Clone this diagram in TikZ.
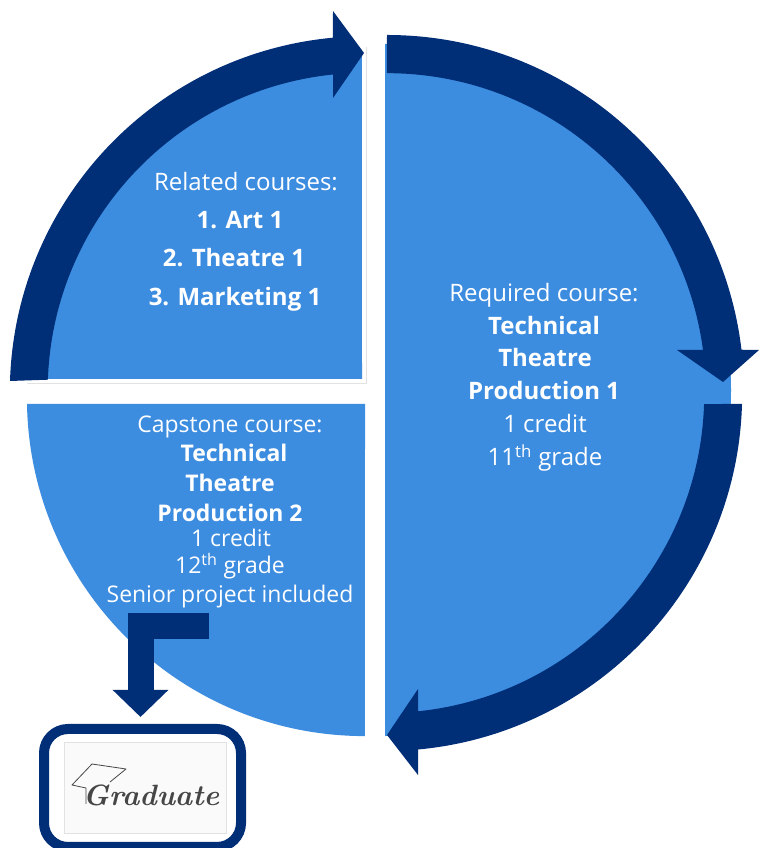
\documentclass[tikz,border=0pt]{standalone}
\usepackage{fontspec}
\setmainfont{Open Sans}
\usetikzlibrary{arrows.meta}
\definecolor{myBlue}{RGB}{60,140,224}
\definecolor{myNavy}{RGB}{0,46,119}
\definecolor{edgeGrey}{RGB}{226,226,226}
\definecolor{inkGrey}{RGB}{70,70,70}
\begin{document}
\begin{tikzpicture}[x=.75pt,y=.75pt,text centered]
\tikzstyle{plainline}=[text=white,font=\fontsize{18}{20}\selectfont,inner sep=0pt]
\tikzstyle{boldline}=[text=white,font=\fontsize{18}{20}\selectfont\bfseries,inner sep=0pt]
\tikzstyle{plainsmall}=[text=white,font=\fontsize{17.2}{20}\selectfont,inner sep=0pt]
\tikzstyle{boldsmall}=[text=white,font=\fontsize{17.2}{20}\selectfont\bfseries,inner sep=0pt]
\clip (0,0) rectangle (759,848);

\fill[white] (0,0) rectangle (759,848);
\draw[edgeGrey,line width=.6pt] (366,801) -- (366,465) -- (27,465);
\fill[myBlue] (28.25,469) arc (177.8:90.7:338) -- (362,469) -- cycle;
\fill[myBlue] (385,804) arc (90:-90:346) -- cycle;
\fill[myBlue] (27,444) arc (181:270:338) -- (365,444) -- cycle;

\fill[myNavy] (10,467) arc (178.2:95.3:356) -- (333,837) -- (364,795) -- (333,750) -- (333,773.5) arc (95.9:178:318) -- cycle;
\fill[myNavy] (387,813) arc (90:6.8:357) -- (759,498) -- (723,466) -- (677,498) -- (703,498) arc (7.6:90:319) -- cycle;
\fill[myNavy] (742,444) arc (-1.6:-84.7:357) -- (418,73) -- (387,113) -- (418,159) -- (418,136.7) arc (-84.1:-1.8:319) -- cycle;

\draw (246,666) node[plainline] (related) {Related courses:};
\draw (240,628) node[boldline] (art) {1. Art 1};
\draw (234,590) node[boldline] (theatre) {2. Theatre 1};
\draw (235,549) node[boldline] (marketing) {3. Marketing 1};

\draw (544,553) node[plainline] (required) {Required course:};
\draw (544,522) node[boldline] (techone) {Technical};
\draw (545,490) node[boldline] (theatreone) {Theatre};
\draw (544,457) node[boldline] (prodone) {Production 1};
\draw (545,424) node[plainline] (creditone) {1 credit};
\draw (545,390) node[plainline] (gradeone) {11\textsuperscript{th} grade};

\draw (230,421) node[plainsmall] (capstone) {Capstone course:};
\draw (234,395) node[boldsmall] (techtwo) {Technical};
\draw (230,365) node[boldsmall] (theatretwo) {Theatre};
\draw (230,335) node[boldsmall] (prodtwo) {Production 2};
\draw (231,310) node[plainsmall] (credittwo) {1 credit};
\draw (230,282) node[plainsmall] (gradetwo) {12\textsuperscript{th} grade};
\draw (230,251) node[plainsmall] (senior) {Senior project included};

\draw (142.5,60) node[draw=myNavy,line width=7.5pt,rounded corners=18pt,fill=white,minimum width=147.75pt,minimum height=88.5pt] (gradbox) {};
\draw (145,60.5) node[draw=edgeGrey,line width=.5pt,fill=white!98!black,minimum width=121.5pt,minimum height=68.25pt] (gradpic) {};
\draw (151,53) node[text=inkGrey,font=\usefont{TU}{lmr}{bx}{it}\fontsize{22}{22}\selectfont,inner sep=0pt] (gradname) {Graduate};
\draw[inkGrey,line width=.6pt,line join=round] (86,44) -- (86,60) -- (72,63) -- (92,84) -- (126,79) -- (110,66);

\coordinate (bendstart) at (209,222);
\draw[myNavy,line width=19.5pt,-{Triangle[length=20.25pt,width=40.5pt]},shorten >=5.25pt] (bendstart) -| ([xshift=-1.5pt]gradbox.north);
\end{tikzpicture}
\end{document}
